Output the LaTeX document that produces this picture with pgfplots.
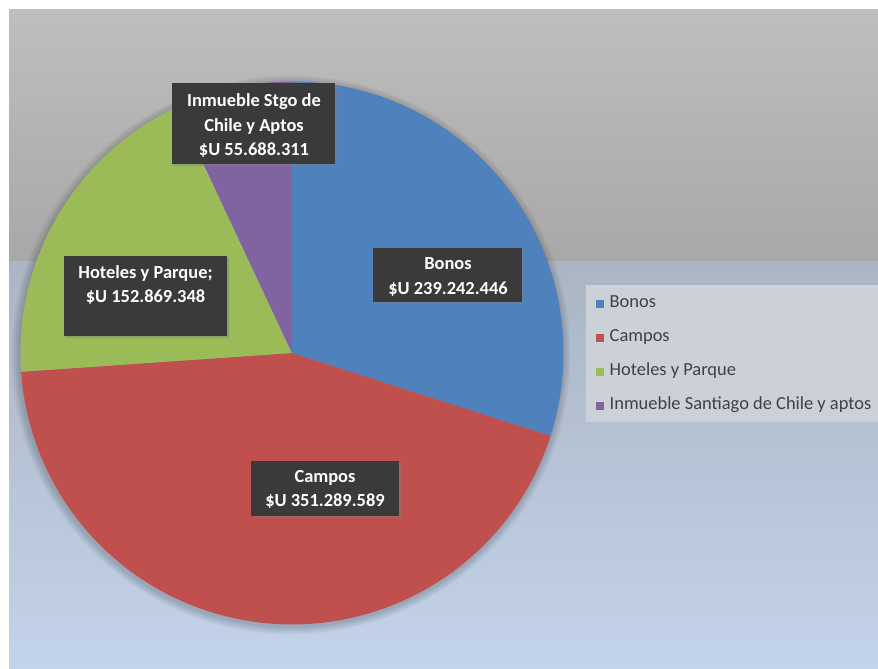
\documentclass[border=0pt]{standalone}
\usepackage{pgfplots}
\pgfplotsset{compat=1.18}
\usepackage{fontspec}
\setmainfont{Carlito}
\usetikzlibrary{shadows}
\definecolor{cBonos}{HTML}{4F81BD}
\definecolor{cCampos}{HTML}{C0504D}
\definecolor{cHoteles}{HTML}{9BBB59}
\definecolor{cInm}{HTML}{8064A2}
\definecolor{bgA}{HTML}{BEBEBE}
\definecolor{bgB}{HTML}{A8A8A8}
\definecolor{bgC}{HTML}{ABB5C3}
\definecolor{bgD}{HTML}{B1C4E0}
\definecolor{bgE}{HTML}{C3D3EA}
\definecolor{legbg}{HTML}{CCD1D8}
\definecolor{legtxt}{HTML}{404048}
\definecolor{boxc}{HTML}{3A3A3A}
\tikzset{
  box/.style={fill=boxc, draw=none, inner sep=0pt,
    drop shadow={shadow xshift=2bp, shadow yshift=-2bp, opacity=0.45}},
  lab/.style={text=white, font=\fontsize{18.5}{20}\selectfont\bfseries, anchor=base, inner sep=0pt},
  halo/.style={fill=black, opacity=0.025, draw=none}
}
\begin{document}
\begin{tikzpicture}
% values in millions of $U
\pgfmathsetmacro\vA{239.242446}% Bonos
\pgfmathsetmacro\vB{351.289589}% Campos
\pgfmathsetmacro\vC{152.869348}% Hoteles y Parque
\pgfmathsetmacro\vD{55.688311}% Inmueble
\pgfmathsetmacro\tot{\vA+\vB+\vC+\vD}
\pgfmathsetmacro\aA{90}
\pgfmathsetmacro\aB{\aA-360*(\vA/\tot)}
\pgfmathsetmacro\aC{\aB-360*(\vB/\tot)}
\pgfmathsetmacro\aD{\aC-360*(\vC/\tot)}
\pgfmathsetmacro\aE{\aD-360*(\vD/\tot)}
\useasboundingbox (0,0) rectangle (878bp,669bp);
\fill[white] (0,0) rectangle (878bp,669bp);
\begin{axis}[at={(0,0)}, anchor=south west,
  width=878bp, height=669bp, scale only axis,
  xmin=0, xmax=878, ymin=0, ymax=669,
  hide axis, clip=false,
  legend cell align=left,
  legend image code/.code={\fill[#1] (0bp,-4bp) rectangle (8bp,4bp);},
  legend style={at={(0.6788,0.5583)}, anchor=north west,
    draw=none, fill=none, inner sep=0pt, row sep=18bp,
    font=\fontsize{18.5}{20}\selectfont, text=legtxt,
    nodes={inner sep=0pt, text height=12bp, text depth=4bp},
    /tikz/every odd column/.append style={column sep=5.5bp}}
]
% background
\shade[top color=bgA, bottom color=bgB, draw=none] (axis cs:9,659) rectangle (axis cs:878,407);
\shade[top color=bgC, middle color=bgD, bottom color=bgE, draw=none] (axis cs:9,407) rectangle (axis cs:878,0);
% legend panel
\fill[legbg] (axis cs:586,384) rectangle (axis cs:878,247);
% soft shadow round the pie
\fill[halo] (axis cs:291,314) circle[radius=272.5bp];
\fill[halo] (axis cs:291,314) circle[radius=273.5bp];
\fill[halo] (axis cs:291,314) circle[radius=274.5bp];
\fill[halo] (axis cs:291,314) circle[radius=275.5bp];
\fill[halo] (axis cs:291,314) circle[radius=276.5bp];
\fill[halo] (axis cs:291,314) circle[radius=277.5bp];
\fill[halo] (axis cs:291,314) circle[radius=278.5bp];
\fill[halo] (axis cs:291,314) circle[radius=279.5bp];
% pie wedges
\addplot[fill=cBonos, draw=none, domain=\aB:\aA, samples=120, variable=\t]
  ({292+271.5*cos(\t)}, {316+271.5*sin(\t)}) -- (axis cs:292,316) -- cycle;
\addlegendentry{Bonos}
\addplot[fill=cCampos, draw=none, domain=\aC:\aB, samples=160, variable=\t]
  ({292+271.5*cos(\t)}, {316+271.5*sin(\t)}) -- (axis cs:292,316) -- cycle;
\addlegendentry{Campos}
\addplot[fill=cHoteles, draw=none, domain=\aD:\aC, samples=80, variable=\t]
  ({292+271.5*cos(\t)}, {316+271.5*sin(\t)}) -- (axis cs:292,316) -- cycle;
\addlegendentry{Hoteles y Parque}
\addplot[fill=cInm, draw=none, domain=\aE:\aD, samples=40, variable=\t]
  ({292+271.5*cos(\t)}, {316+271.5*sin(\t)}) -- (axis cs:292,316) -- cycle;
\addlegendentry{Inmueble Santiago de Chile y aptos}
% data labels
\node[box, minimum width=163bp, minimum height=81bp] at (axis cs:253.5,545.5) {};
\node[lab] at (axis cs:254,562.5) {Inmueble Stgo de};
\node[lab] at (axis cs:254,537.5) {Chile y Aptos};
\node[lab] at (axis cs:254,513.5) {\$U 55.688.311};
\node[box, minimum width=149bp, minimum height=54bp] at (axis cs:447.5,394) {};
\node[lab] at (axis cs:448,399) {Bonos};
\node[lab] at (axis cs:448,374.5) {\$U 239.242.446};
\node[box, minimum width=163bp, minimum height=80bp] at (axis cs:145.5,373) {};
\node[lab] at (axis cs:145.5,390.5) {Hoteles y Parque;};
\node[lab] at (axis cs:145.5,366.5) {\$U 152.869.348};
\node[box, minimum width=148bp, minimum height=55bp] at (axis cs:325,180.5) {};
\node[lab] at (axis cs:325,186.5) {Campos};
\node[lab] at (axis cs:325,162.5) {\$U 351.289.589};
\end{axis}
\end{tikzpicture}
\end{document}
